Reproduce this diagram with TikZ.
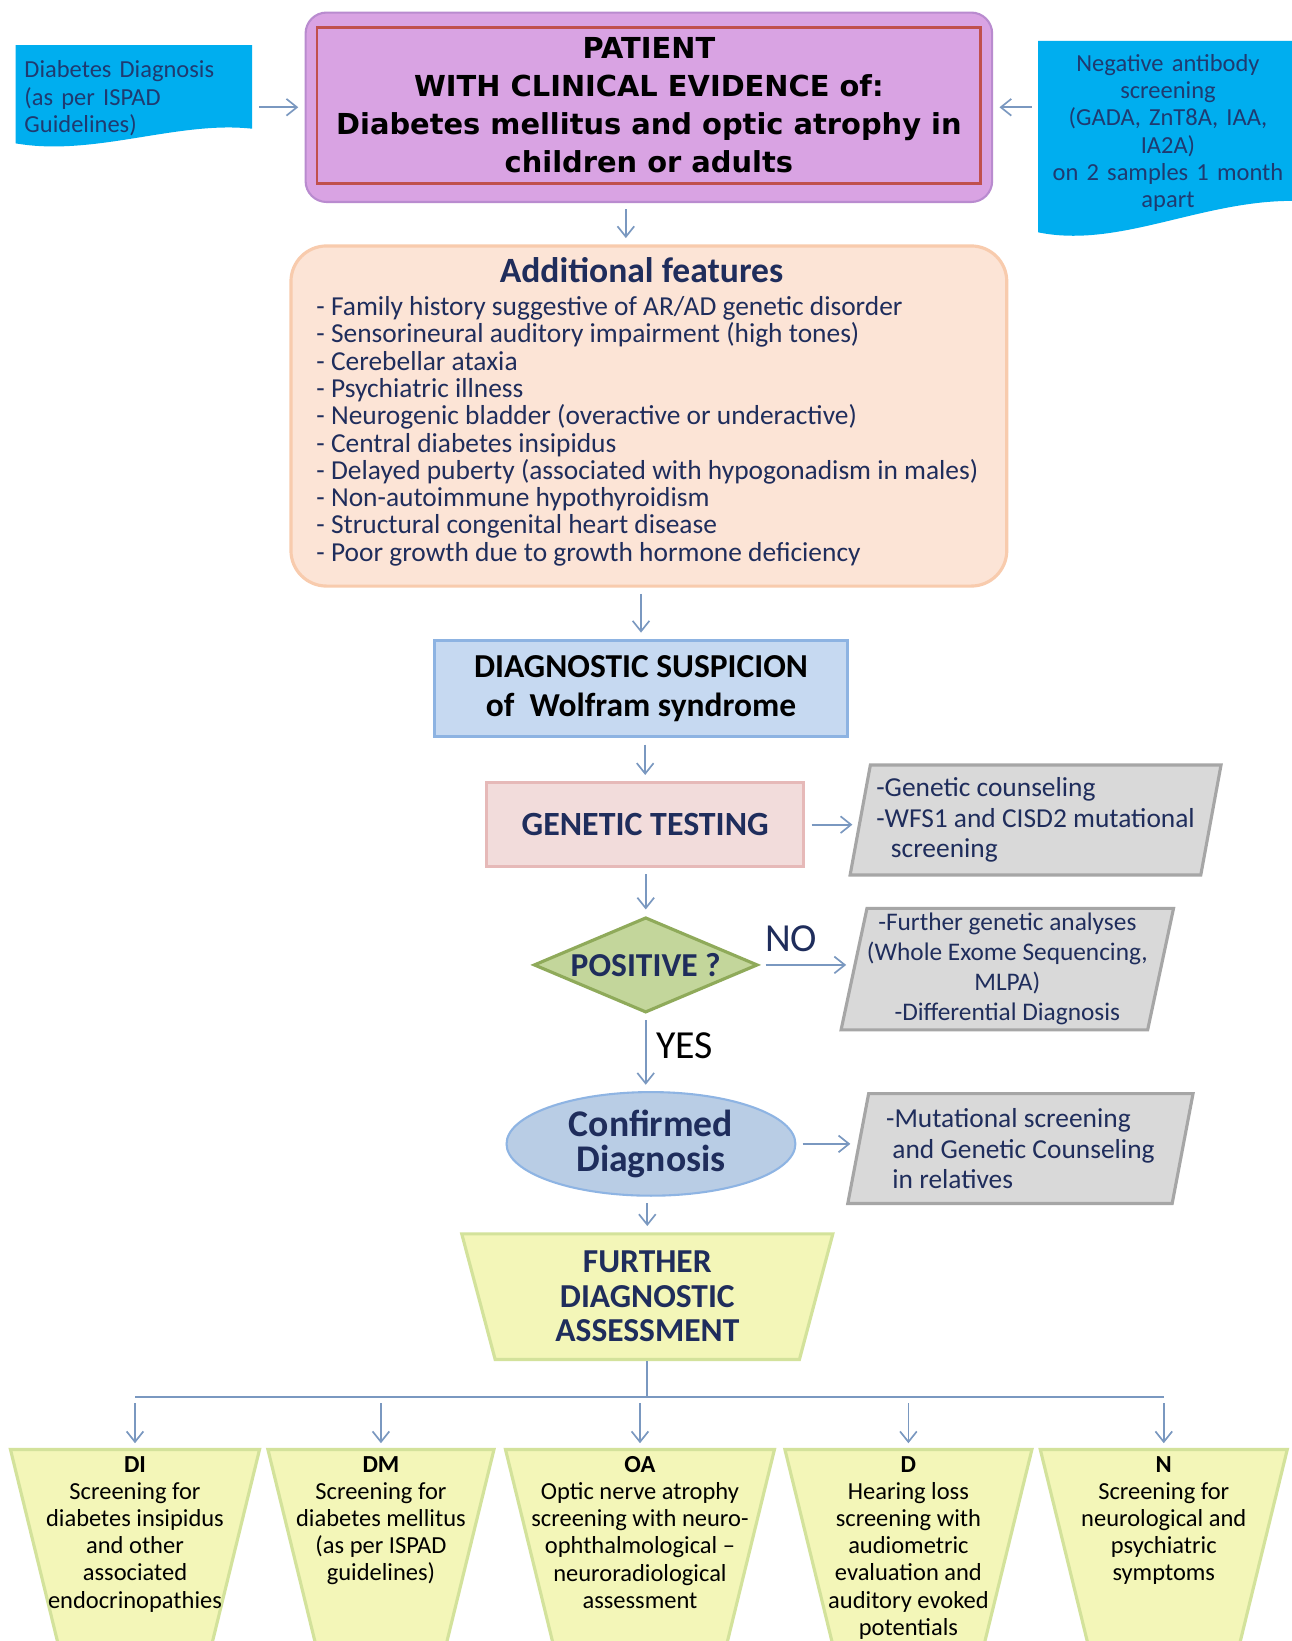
\documentclass[tikz,border=0pt]{standalone}
\usepackage{fontspec}
\setmainfont{Carlito}
\newfontfamily\patfont{DejaVu Sans}
\usetikzlibrary{shapes.geometric,arrows.meta}
\definecolor{docblue}{HTML}{00AEEF}
\definecolor{doctxt}{HTML}{1F3A70}
\definecolor{navy}{HTML}{1F2D5C}
\definecolor{violetf}{HTML}{D9A3E3}
\definecolor{violetd}{HTML}{B98BCF}
\definecolor{redd}{HTML}{C0504D}
\definecolor{peachf}{HTML}{FCE4D6}
\definecolor{peachd}{HTML}{F8CBAD}
\definecolor{suspf}{HTML}{C6D9F1}
\definecolor{suspd}{HTML}{8DB3E2}
\definecolor{genf}{HTML}{F2DCDB}
\definecolor{gend}{HTML}{E6B9B8}
\definecolor{grayf}{HTML}{D9D9D9}
\definecolor{grayd}{HTML}{A6A6A6}
\definecolor{greenf}{HTML}{C3D69B}
\definecolor{greend}{HTML}{8FAA5A}
\definecolor{conff}{HTML}{B9CDE5}
\definecolor{confd}{HTML}{8EB4E3}
\definecolor{yelf}{HTML}{F3F6B8}
\definecolor{yeld}{HTML}{D3E29B}
\definecolor{arrowc}{HTML}{7A98C0}

\begin{document}
\begin{tikzpicture}[x=0.5pt,y=-0.5pt,
    arr/.style={draw=arrowc, line width=0.8pt, -{Straight Barb[length=5pt,width=8pt]}, shorten <=3pt, shorten >=3pt},
    busline/.style={draw=arrowc, line width=0.8pt},
    doctext/.style={text=doctxt, inner xsep=4pt, inner ysep=0pt, font=\fontsize{11.7pt}{13pt}\selectfont},
    graybox/.style={trapezium, trapezium left angle=77, trapezium right angle=103, trapezium stretches, fill=grayf, draw=grayd, line width=1.5pt, inner sep=0pt, text=navy},
    funnel/.style={trapezium, trapezium left angle=102.5, trapezium right angle=102.5, trapezium stretches, fill=yelf, draw=yeld, line width=1.5pt, inner sep=0pt},
    funnelpath/.style={fill=yelf, draw=yeld, line width=1.5pt},
    btext/.style={anchor=north, align=center, inner sep=0pt, font=\fontsize{11.7pt}{13pt}\selectfont}
  ]
  \fill[white] (0,0) rectangle (1234,1568);
  \useasboundingbox (0,0) rectangle (1234,1568);

  \fill[docblue] (15,43) -- (241,43) -- (241,123) .. controls (170,115) and (90,150) .. (15,137) -- cycle;
  \fill[docblue] (992,39) -- (1240,39) -- (1240,192) .. controls (1150,190) and (1070,238) .. (992,222) -- cycle;
  \node[doctext, anchor=west, text width=105pt, align=left] (ldoc) at (15,94) {Diabetes Diagnosis\\(as per ISPAD\\Guidelines)};
  \node[doctext, text width=116pt, align=center] (rdoc) at (1116,127) {Negative antibody\\screening\\(GADA, ZnT8A, IAA,\\IA2A)\\on 2 samples 1 month\\apart};

  \node[draw=violetd, fill=violetf, line width=1pt, rounded corners=10pt, minimum width=328pt, minimum height=90.5pt] (patient) at (620,102.5) {};
  \node[draw=redd, line width=1.3pt, minimum width=317pt, minimum height=74.5pt, align=center, font=\patfont\bfseries\fontsize{13.8pt}{18pt}\selectfont] (pattext) at (620,100.5) {PATIENT\\WITH CLINICAL EVIDENCE of:\\Diabetes mellitus and optic atrophy in\\children or adults};
  \draw[arr] (ldoc.east |- patient.west) -- (patient.west);
  \draw[arr] (rdoc.west |- patient.east) -- (patient.east);

  \node[draw=peachd, fill=peachf, line width=1.5pt, rounded corners=17pt, minimum width=342pt, minimum height=162.5pt] (addf) at (620,397.5) {};
  \node[text=navy, font=\bfseries\fontsize{17pt}{20pt}\selectfont] (addtitle) at (613,258) {Additional features};
  \node[anchor=west, align=left, inner sep=0pt, text=navy, font=\fontsize{13.1pt}{13.05pt}\selectfont] (addlist) at (302,412) {- Family history suggestive of AR/AD genetic disorder\\- Sensorineural auditory impairment (high tones)\\- Cerebellar ataxia\\- Psychiatric illness\\- Neurogenic bladder (overactive or underactive)\\- Central diabetes insipidus\\- Delayed puberty (associated with hypogonadism in males)\\- Non-autoimmune hypothyroidism\\- Structural congenital heart disease\\- Poor growth due to growth hormone deficiency};
  \coordinate (pa) at ([xshift=-11pt]patient.south);
  \draw[arr] (pa) -- (pa |- addf.north);

  \node[draw=suspd, fill=suspf, line width=1.5pt, minimum width=197.5pt, minimum height=46pt, align=center, font=\bfseries\fontsize{16pt}{18.5pt}\selectfont] (susp) at (612.5,658) {DIAGNOSTIC SUSPICION\\of\ \ Wolfram syndrome};
  \draw[arr] (susp.north |- addf.south) -- (susp.north);

  \node[draw=gend, fill=genf, line width=1.5pt, minimum width=151.5pt, minimum height=40pt, text=navy, font=\bfseries\fontsize{16.2pt}{18pt}\selectfont] (gen) at (616.5,788) {GENETIC TESTING};
  \draw[arr] (gen.north |- susp.south) -- (gen.north);

  \node[graybox, minimum width=177.5pt, minimum height=52.5pt, align=left, font=\fontsize{13.1pt}{14.5pt}\selectfont] (counsel) at (989.5,783.5) {-Genetic counseling\\-WFS1 and CISD2 mutational\\\hspace*{7pt}screening};
  \draw[arr] (gen.east) -- (gen.east -| counsel.west);

  \node[diamond, aspect=2.35, fill=greenf, draw=greend, line width=1.5pt, minimum width=107pt, minimum height=45.5pt, inner sep=0pt, text=navy, font=\bfseries\fontsize{16pt}{18pt}\selectfont] (pos) at (617,922) {POSITIVE ?};
  \draw[arr] (pos.north |- gen.south) -- (pos.north);

  \node[graybox, minimum width=157.5pt, minimum height=58pt, align=center, font=\fontsize{12.1pt}{14.35pt}\selectfont] (moretests) at (962.5,926) {-Further genetic analyses\\(Whole Exome Sequencing,\\MLPA)\\-Differential Diagnosis};
  \draw[arr] (pos.east) -- (pos.east -| moretests.west);
  \node[text=navy, font=\fontsize{19pt}{22pt}\selectfont] (nolab) at (756,897) {NO};
  \node[text=black, font=\fontsize{19pt}{22pt}\selectfont] (yeslab) at (654,999) {YES};

  \node[ellipse, fill=conff, draw=confd, line width=1pt, minimum width=138pt, minimum height=49.5pt, inner sep=0pt, align=center, text=navy, font=\bfseries\fontsize{18pt}{16.5pt}\selectfont] (conf) at (622,1093) {Confirmed\\Diagnosis};
  \draw[arr] (pos.south) -- (pos.south |- conf.north);

  \node[graybox, minimum width=165pt, minimum height=52.5pt, align=left, font=\fontsize{13.1pt}{14.5pt}\selectfont] (relat) at (975,1097.5) {-Mutational screening\\\hspace*{3pt}and Genetic Counseling\\\hspace*{3pt}in relatives};
  \draw[arr] (conf.east) -- (conf.east -| relat.west);

  \node[funnel, minimum width=177.5pt, minimum height=60pt, align=center, text=navy, font=\bfseries\fontsize{16pt}{16.5pt}\selectfont] (further) at (618.5,1239) {FURTHER\\DIAGNOSTIC\\ASSESSMENT};
  \draw[arr] (further.north |- conf.south) -- (further.north);

  \foreach \n/\cx/\w in {di/129/238, dm/364/216, oa/611.5/257, dd/868/236, nn/1112/236} {
    \draw[funnelpath] ({\cx-\w/2},1385) -- ({\cx+\w/2},1385) -- ({\cx+\w/2-49},1585) -- ({\cx-\w/2+49},1585) -- cycle;
    \coordinate (\n) at (\cx,1385);
  }
  \node[btext] (ditext) at (129,1391) {\textbf{DI}\\Screening for\\diabetes insipidus\\and other\\associated\\endocrinopathies};
  \node[btext] (dmtext) at (364,1391) {\textbf{DM}\\Screening for\\diabetes mellitus\\(as per ISPAD\\guidelines)};
  \node[btext] (oatext) at (611.5,1391) {\textbf{OA}\\Optic nerve atrophy\\screening with neuro-\\ophthalmological –\\neuroradiological\\assessment};
  \node[btext] (ddtext) at (868,1391) {\textbf{D}\\Hearing loss\\screening with\\audiometric\\evaluation and\\auditory evoked\\potentials};
  \node[btext] (nntext) at (1112,1391) {\textbf{N}\\Screening for\\neurological and\\psychiatric\\symptoms};

  \coordinate (bus) at (617,1335);
  \draw[busline] (further.south) -- (further.south |- bus);
  \draw[busline] (di |- bus) -- (nn |- bus);
  \foreach \b in {di,dm,oa,dd,nn}
    \draw[arr] (\b |- bus) -- (\b);
\end{tikzpicture}
\end{document}
